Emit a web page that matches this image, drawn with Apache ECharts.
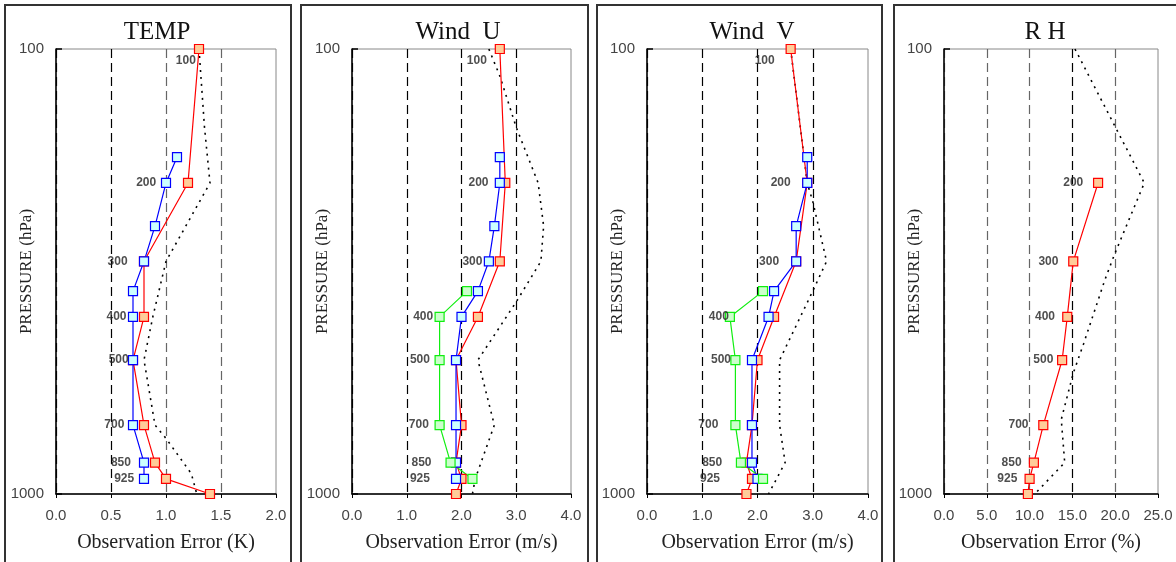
<!DOCTYPE html>
<html>
<head>
<meta charset="utf-8">
<script src="https://cdn.jsdelivr.net/npm/echarts@6/dist/echarts.min.js"></script>
<style>
  html, body { margin: 0; padding: 0; background: #fff; }
  #chart { width: 1176px; height: 562px; }
</style>
</head>
<body>
<div id="chart"></div>
<script>
// pressure levels (hPa) of each profile
const redLevels = [100, 200, 300, 400, 500, 700, 850, 925, 1000];
const blueLevels = [175, 200, 250, 300, 350, 400, 500, 700, 850, 925];
const greenLevels = [350, 400, 500, 700, 850, 925];
const rhLevels = [200, 300, 400, 500, 700, 850, 925, 1000];
const tagLevels = [100, 200, 300, 400, 500, 700, 850, 925];
const rhTagLevels = [200, 300, 400, 500, 700, 850, 925];

// TEMP (K)
const tempRed = [1.3, 1.2, 0.8, 0.8, 0.7, 0.8, 0.9, 1.0, 1.4];
const tempBlue = [1.1, 1.0, 0.9, 0.8, 0.7, 0.7, 0.7, 0.7, 0.8, 0.8];
const tempDotLevels = [100, 150, 200, 300, 400, 500, 700, 750, 900, 1000];
const tempDot = [1.30, 1.35, 1.40, 1.00, 0.88, 0.80, 0.90, 1.00, 1.23, 1.28];
const tempTagX = [1.18, 0.82, 0.56, 0.55, 0.57, 0.53, 0.59, 0.62];

// Wind U (m/s)
const windURed = [2.7, 2.8, 2.7, 2.3, 1.9, 2.0, 1.9, 2.0, 1.9];
const windUBlue = [2.7, 2.7, 2.6, 2.5, 2.3, 2.0, 1.9, 1.9, 1.9, 1.9];
const windUGreen = [2.1, 1.6, 1.6, 1.6, 1.8, 2.2];
const windUDotLevels = [100, 115, 150, 200, 250, 300, 370, 500, 700, 925, 1000];
const windUDot = [2.5, 2.7, 3.0, 3.4, 3.5, 3.45, 3.0, 2.3, 2.6, 2.25, 2.2];
const windUTagX = [2.28, 2.31, 2.20, 1.30, 1.24, 1.22, 1.27, 1.24];

// Wind V (m/s)
const windVRed = [2.6, 2.9, 2.7, 2.3, 2.0, 1.9, 1.8, 1.9, 1.8];
const windVBlue = [2.9, 2.9, 2.7, 2.7, 2.3, 2.2, 1.9, 1.9, 1.9, 2.0];
const windVGreen = [2.1, 1.5, 1.6, 1.6, 1.7, 2.1];
const windVDotLevels = [100, 200, 220, 300, 350, 500, 700, 850, 1000];
const windVDot = [2.6, 2.9, 3.0, 3.25, 3.0, 2.4, 2.4, 2.5, 2.2];
const windVTagX = [2.13, 2.42, 2.21, 1.30, 1.34, 1.11, 1.18, 1.14];

// R H (%)
const rhRed = [18.0, 15.1, 14.4, 13.8, 11.6, 10.5, 10.0, 9.8];
const rhDotLevels = [100, 200, 290, 330, 460, 535, 680, 850, 1000];
const rhDot = [15.3, 23.4, 19.9, 18.8, 16.3, 15.1, 13.7, 14.1, 10.6];
const rhTagX = [15.1, 12.2, 11.8, 11.6, 8.7, 7.9, 7.4];

const RED = { line: '#FF0000', fill: '#FFCC99' };
const BLUE = { line: '#0000FF', fill: '#CCFFFF' };
const GREEN = { line: '#11EE11', fill: '#CCFFCC' };

const panels = [
  {
    title: 'TEMP', titleX: 152, box: [5, 286], left: 56, width: 220,
    xName: 'Observation Error (K)', max: 2, step: 0.5,
    gridColors: ['#000', '#000', '#666', '#666', '#666'],
    profiles: [[redLevels, tempRed, RED], [blueLevels, tempBlue, BLUE]],
    dot: [tempDotLevels, tempDot], tags: [tagLevels, tempTagX]
  },
  {
    title: 'Wind\u00a0\u00a0U', titleX: 453, box: [301, 287], left: 352, width: 219,
    xName: 'Observation Error (m/s)', max: 4, step: 1,
    gridColors: ['#000'],
    profiles: [[redLevels, windURed, RED], [blueLevels, windUBlue, BLUE], [greenLevels, windUGreen, GREEN]],
    dot: [windUDotLevels, windUDot], tags: [tagLevels, windUTagX]
  },
  {
    title: 'Wind\u00a0\u00a0V', titleX: 747, box: [597, 285], left: 647, width: 221,
    xName: 'Observation Error (m/s)', max: 4, step: 1,
    gridColors: ['#000'],
    profiles: [[redLevels, windVRed, RED], [blueLevels, windVBlue, BLUE], [greenLevels, windVGreen, GREEN]],
    dot: [windVDotLevels, windVDot], tags: [tagLevels, windVTagX]
  },
  {
    title: 'R H', titleX: 1040, box: [894, 300], left: 944, width: 214,
    xName: 'Observation Error (%)', max: 25, step: 5,
    gridColors: ['#666', '#666', '#666', '#000', '#666', '#666'],
    profiles: [[rhLevels, rhRed, RED]],
    dot: [rhDotLevels, rhDot], tags: [rhTagLevels, rhTagX]
  }
];

const chart = echarts.init(document.getElementById('chart'));

const grid = [], xAxis = [], yAxis = [], series = [], title = [], graphic = [];

panels.forEach((p, i) => {
  graphic.push({
    type: 'rect', z: 0,
    shape: { x: p.box[0], y: 5, width: p.box[1], height: 620 },
    style: { fill: 'none', stroke: '#333', lineWidth: 2 }
  });
  title.push({
    text: p.title, left: p.titleX, top: 15, textAlign: 'center',
    textStyle: { fontFamily: 'Liberation Serif', fontSize: 25, fontWeight: 'normal', color: '#111' }
  });
  grid.push({
    left: p.left, top: 49, width: p.width, height: 445,
    show: true, borderColor: '#888', borderWidth: 1, backgroundColor: 'transparent',
    outerBoundsMode: 'none'
  });
  xAxis.push({
    type: 'value', gridIndex: i, min: 0, max: p.max, interval: p.step,
    name: p.xName, nameLocation: 'middle', nameGap: 39, nameMoveOverlap: false,
    nameTextStyle: { fontFamily: 'Liberation Serif', fontSize: 20, color: '#222' },
    axisLine: { show: true, lineStyle: { color: '#000', width: 1.5 } },
    axisTick: { show: true, inside: false, length: 4, lineStyle: { color: '#000' } },
    axisLabel: {
      margin: 14, fontFamily: 'Liberation Sans', fontSize: 15, color: '#444',
      formatter: v => v.toFixed(1)
    },
    splitLine: {
      show: true, showMaxLine: false,
      lineStyle: { type: [9, 5], width: 1.2, color: p.gridColors }
    }
  });
  yAxis.push({
    type: 'log', logBase: 10, gridIndex: i, min: 100, max: 1000, inverse: true,
    name: 'PRESSURE (hPa)', nameLocation: 'middle', nameGap: 21, nameRotate: 90,
    nameMoveOverlap: false,
    nameTextStyle: { fontFamily: 'Liberation Serif', fontSize: 17, color: '#222' },
    axisLine: { show: true, lineStyle: { color: '#000', width: 1.5 } },
    axisTick: { show: true, inside: true, length: 6, lineStyle: { color: '#000', width: 1.5 } },
    axisLabel: {
      margin: 12, fontFamily: 'Liberation Sans', fontSize: 15, color: '#444',
      formatter: v => String(v)
    },
    splitLine: { show: false }
  });

  // first-guess (dotted) profile
  series.push({
    type: 'line', xAxisIndex: i, yAxisIndex: i, showSymbol: false, silent: true,
    data: p.dot[0].map((lv, k) => [p.dot[1][k], lv]),
    lineStyle: { color: '#000', width: 1.6, type: [2, 5] }, z: 2
  });

  p.profiles.forEach(([lvs, vals, c]) => {
    series.push({
      type: 'line', xAxisIndex: i, yAxisIndex: i,
      data: lvs.map((lv, k) => [vals[k], lv]),
      symbol: 'rect', symbolSize: 9, showSymbol: true,
      lineStyle: { color: c.line, width: 1.2 },
      itemStyle: { color: c.fill, borderColor: c.line, borderWidth: 1.2 },
      z: 3
    });
  });

  // pressure level tags
  series.push({
    type: 'scatter', xAxisIndex: i, yAxisIndex: i, symbolSize: 0, silent: true,
    data: p.tags[0].map((lv, k) => ({
      value: [p.tags[1][k], lv],
      label: lv === 100 ? { offset: [0, 12] } : {}
    })),
    label: {
      show: true, position: 'inside',
      formatter: d => String(d.value[1]),
      fontFamily: 'Liberation Sans', fontSize: 12, fontWeight: 'bold', color: '#222'
    },
    z: 4
  });
});

chart.setOption({
  animation: false,
  backgroundColor: '#fff',
  title, grid, xAxis, yAxis, series, graphic
});
</script>
</body>
</html>
